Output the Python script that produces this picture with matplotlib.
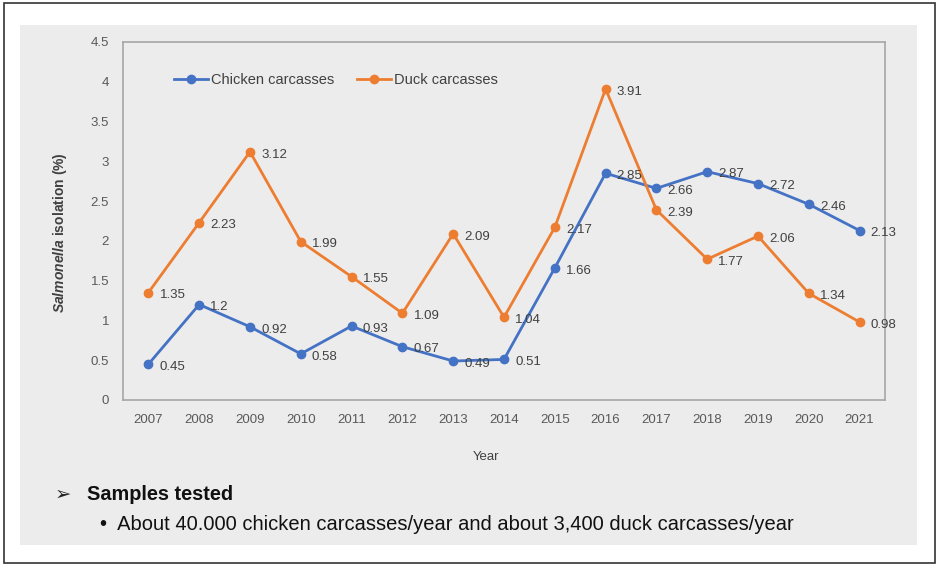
import matplotlib.pyplot as plt
from matplotlib.patches import Rectangle

plt.rcParams['font.family'] = ['Liberation Sans', 'DejaVu Sans']
plt.rcParams['mathtext.fontset'] = 'custom'
plt.rcParams['mathtext.rm'] = 'Liberation Sans'
plt.rcParams['mathtext.it'] = 'Liberation Sans:italic'
plt.rcParams['mathtext.bf'] = 'Liberation Sans:bold'
plt.rcParams['mathtext.bfit'] = 'Liberation Sans:italic:bold'

# data
years = ['2007', '2008', '2009', '2010', '2011', '2012', '2013', '2014',
         '2015', '2016', '2017', '2018', '2019', '2020', '2021']
chicken = [0.45, 1.2, 0.92, 0.58, 0.93, 0.67, 0.49, 0.51,
           1.66, 2.85, 2.66, 2.87, 2.72, 2.46, 2.13]
duck = [1.35, 2.23, 3.12, 1.99, 1.55, 1.09, 2.09, 1.04,
        2.17, 3.91, 2.39, 1.77, 2.06, 1.34, 0.98]
yticks = [0, 0.5, 1, 1.5, 2, 2.5, 3, 3.5, 4, 4.5]

W, H = 939, 567
fig = plt.figure(figsize=(W / 100, H / 100), dpi=100)
fig.patch.set_facecolor('white')

# outer frame and grey panel
fig.patches.append(Rectangle((4 / W, 4 / H), 931 / W, 560 / H, transform=fig.transFigure,
                             fill=False, edgecolor='#333333', lw=1.2, zorder=-2))
fig.patches.append(Rectangle((20 / W, 1 - 545 / H), 897 / W, 520 / H, transform=fig.transFigure,
                             facecolor='#ececec', edgecolor='none', zorder=-1))

ax = fig.add_axes([123 / W, 1 - 400 / H, 762 / W, 358 / H])
ax.set_facecolor('#ececec')
x = list(range(len(years)))
ax.plot(x, chicken, color='#4472C4', lw=2, marker='o', ms=6, label='Chicken carcasses')
ax.plot(x, duck, color='#ED7D31', lw=2, marker='o', ms=6, label='Duck carcasses')

for xi, v in zip(x, chicken):
    ax.annotate(f'{v:g}', (xi, v), xytext=(8, -2), textcoords='offset points',
                ha='left', va='center', fontsize=9.5, color='#404040')
for xi, v in zip(x, duck):
    ax.annotate(f'{v:g}', (xi, v), xytext=(8, -2), textcoords='offset points',
                ha='left', va='center', fontsize=9.5, color='#404040')

ax.set_xlim(-0.5, len(years) - 0.5)
ax.set_ylim(0, 4.5)
ax.set_xticks(x)
ax.set_xticklabels(years)
ax.set_yticks(yticks)
ax.set_yticklabels([f'{t:g}' for t in yticks])
ax.tick_params(length=0, labelsize=9.5, colors='#595959', pad=10)
for s in ax.spines.values():
    s.set_color('#a6a6a6')
    s.set_linewidth(1.2)

ax.legend(loc='upper left', bbox_to_anchor=(0.05, 0.95), ncol=2, frameon=False,
          fontsize=10.5, labelcolor='#404040', handlelength=2.3, columnspacing=1.6,
          handletextpad=0.2)

fig.text(486 / W, 1 - 457 / H, 'Year', ha='center', va='center', fontsize=9.5, color='#404040')
fig.text(60 / W, 1 - 233 / H, r'$\mathbfit{Salmonella}$' + ' isolation (%)', rotation=90,
         ha='center', va='center', fontsize=10, color='#404040', fontweight='bold')

fig.text(55 / W, 1 - 494 / H, '➢', ha='left', va='center', fontsize=14,
         family=['DejaVu Sans'], color='#222222')
fig.text(87 / W, 1 - 494 / H, 'Samples tested', ha='left', va='center', fontsize=14.3,
         fontweight='bold', color='#111111')
fig.text(100 / W, 1 - 524 / H, '•  About 40.000 chicken carcasses/year and about 3,400 duck carcasses/year',
         ha='left', va='center', fontsize=14.5, color='#111111')

fig.savefig('out.png', dpi=100)
